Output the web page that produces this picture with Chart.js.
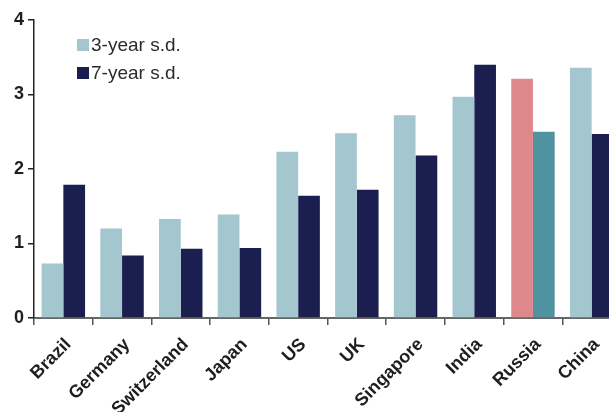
<!DOCTYPE html>
<html>
<head>
<meta charset="utf-8">
<script src="https://cdn.jsdelivr.net/npm/chart.js@4"></script>
<style>
  html, body { margin: 0; padding: 0; overflow: hidden; background: #fff; }
</style>
</head>
<body>
<canvas id="sdChart" width="621" height="412" style="width:621px;height:412px;display:block"></canvas>
<script>
const categories = ['Brazil', 'Germany', 'Switzerland', 'Japan', 'US', 'UK', 'Singapore', 'India', 'Russia', 'China'];
const sd3 = [0.73, 1.20, 1.33, 1.39, 2.23, 2.48, 2.72, 2.97, 3.21, 3.36];
const sd7 = [1.79, 0.84, 0.93, 0.94, 1.64, 1.72, 2.18, 3.40, 2.50, 2.47];
const seriesNames = ['3-year s.d.', '7-year s.d.'];
const highlight = 'Russia';

const light = '#a4c6cf';
const dark = '#1b1f4f';
const lightHi = '#de888c';
const darkHi = '#4f93a1';

// colores por barra, Russia va resaltado
const colors3 = categories.map(c => c === highlight ? lightHi : light);
const colors7 = categories.map(c => c === highlight ? darkHi : dark);

const fontFam = '"Liberation Sans", Arial, Helvetica, sans-serif';

/* leyenda dentro del area del grafico */
const insideLegend = {
    id: 'insideLegend',
    afterDraw(chart) {
        const ctx = chart.ctx;
        const swatches = [light, dark];
        ctx.save();
        ctx.font = '19px ' + fontFam;
        ctx.textBaseline = 'middle';
        ctx.textAlign = 'left';
        seriesNames.forEach((name, i) => {
            const y = 45 + i * 28;
            ctx.fillStyle = swatches[i];
            ctx.fillRect(77, y - 6, 12, 12);
            ctx.fillStyle = '#2b2b2b';
            ctx.fillText(name, 91, y + 1);
        });
        ctx.restore();
    }
};

new Chart(document.getElementById('sdChart'), {
    type: 'bar',
    data: {
        labels: categories,
        datasets: [
            { label: seriesNames[0], data: sd3, backgroundColor: colors3 },
            { label: seriesNames[1], data: sd7, backgroundColor: colors7 }
        ]
    },
    options: {
        responsive: false,
        animation: false,
        devicePixelRatio: 1,
        categoryPercentage: 0.74,
        barPercentage: 1.0,
        layout: { padding: { top: 20, right: 0, left: 0, bottom: 0 } },
        plugins: {
            legend: { display: false },
            tooltip: { enabled: false }
        },
        scales: {
            x: {
                offset: true,
                grid: { drawOnChartArea: false, drawTicks: true, tickLength: 7, color: '#555', lineWidth: 1.5, offset: true },
                border: { display: true, color: '#666', width: 2 },
                ticks: {
                    color: '#1e1e1e',
                    font: { family: fontFam, size: 18, weight: 'bold' },
                    maxRotation: 45,
                    minRotation: 45,
                    autoSkip: false,
                    labelOffset: 5,
                    padding: 9
                },
                afterFit(scale) { scale.height = 94; }
            },
            y: {
                min: 0,
                max: 4,
                ticks: {
                    stepSize: 1,
                    color: '#1e1e1e',
                    font: { family: fontFam, size: 18, weight: 'bold' },
                    padding: 4
                },
                grid: { drawOnChartArea: false, drawTicks: true, tickLength: 6, color: '#222', lineWidth: 1.5 },
                border: { display: true, color: '#222', width: 1.5 },
                afterFit(scale) { scale.width = 34; }
            }
        }
    },
    plugins: [insideLegend]
});
</script>
</body>
</html>
